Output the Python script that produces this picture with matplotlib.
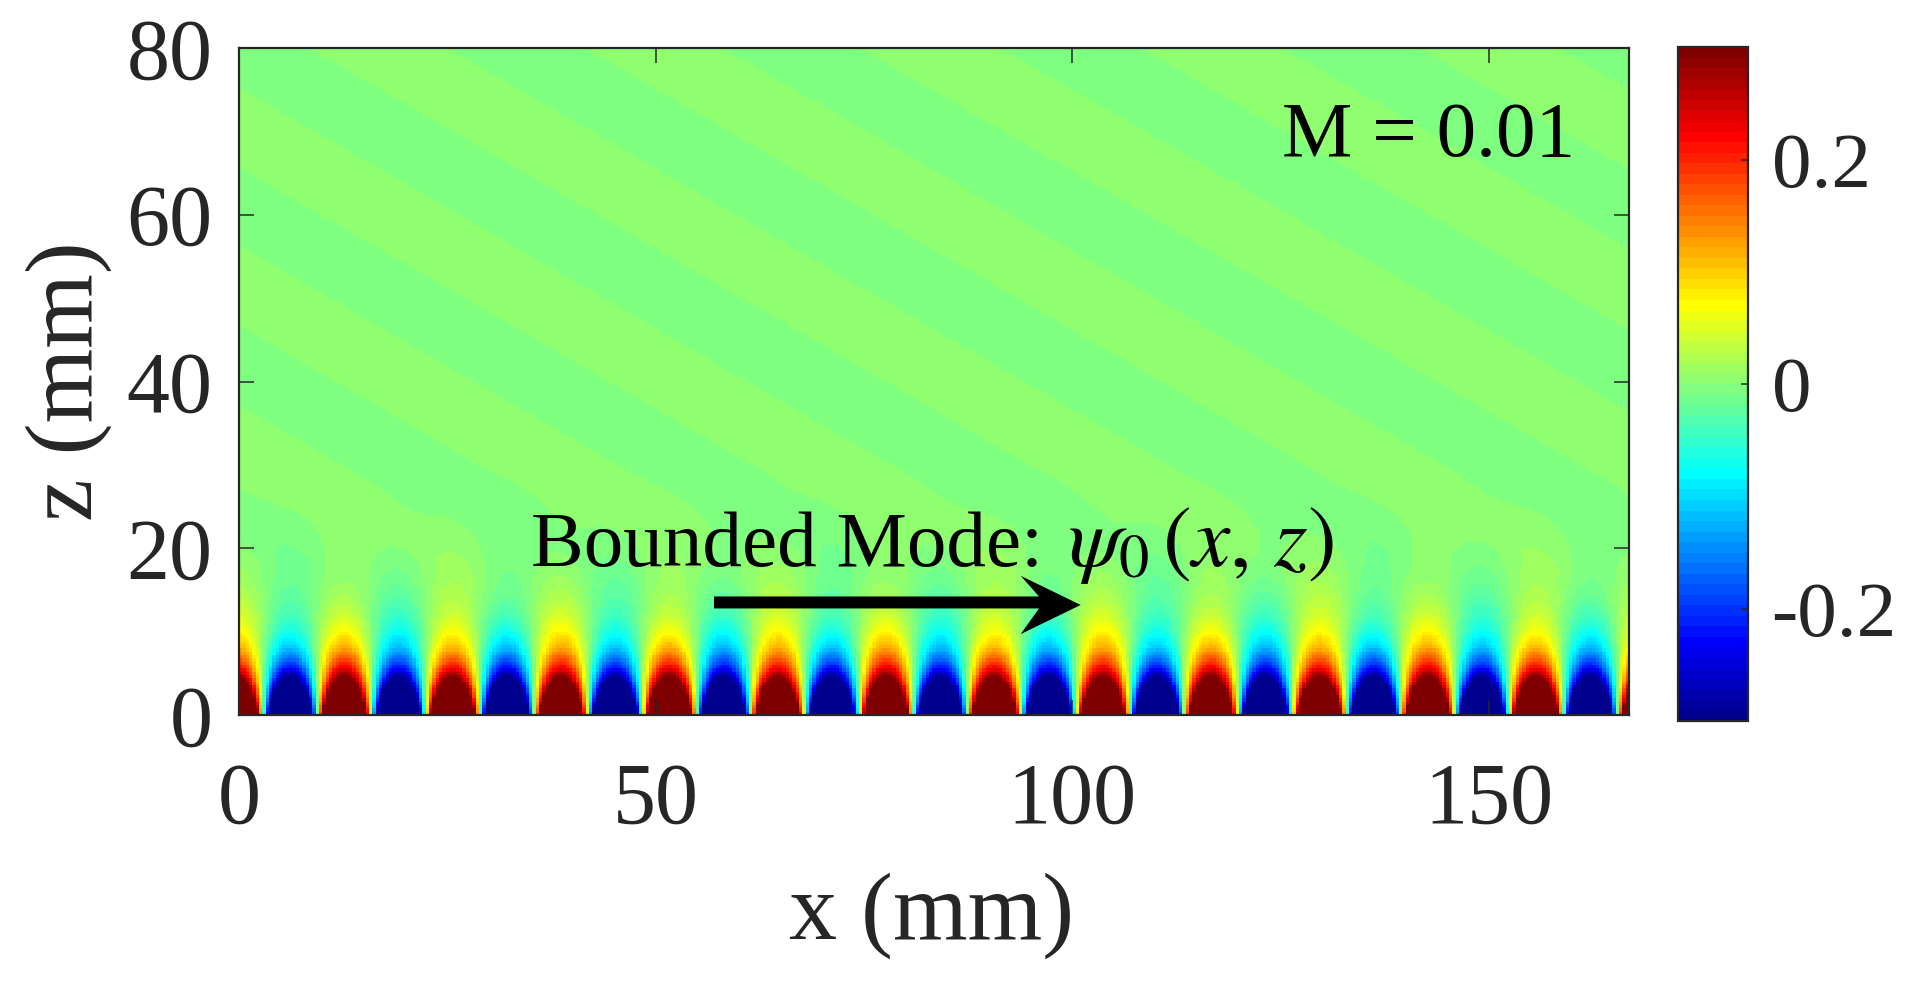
import numpy as np
import matplotlib
matplotlib.use("Agg")
import matplotlib.pyplot as plt
from matplotlib.colors import ListedColormap
from matplotlib.patches import Polygon

# ---- values (mm) ----
x_limits = [0.0, 166.8]
z_limits = [0.0, 80.0]
color_limits = [-0.3, 0.3]
x_ticks = [0, 50, 100, 150]
z_ticks = [0, 20, 40, 60, 80]
cbar_ticks = [-0.2, 0, 0.2]
cbar_labels = ["-0.2", "0", "0.2"]

# x positions of the 26 nodes of the bounded mode (mm)
mode_nodes = [2.9, 9.4, 15.9, 22.4, 28.9, 35.4, 41.9, 48.4, 54.9, 61.4, 67.9, 74.4, 80.9,
              87.4, 93.9, 100.4, 106.9, 113.4, 119.9, 126.4, 132.9, 139.4, 145.9, 152.4,
              158.9, 165.4]
# shape across one half-lobe
lobe_pos = [0.0, 0.05, 0.1, 0.15, 0.2, 0.25, 0.3, 0.35, 0.4, 0.45, 0.5,
            0.55, 0.6, 0.65, 0.7, 0.75, 0.8, 0.85, 0.9, 0.95, 1.0]
lobe_shape = [0.0, 0.156, 0.309, 0.454, 0.588, 0.707, 0.809, 0.891, 0.951, 0.988, 1.0,
              0.988, 0.951, 0.891, 0.809, 0.707, 0.588, 0.454, 0.309, 0.156, 0.0]
# decay of the lobe amplitude with height
decay_z = [0, 2, 4, 4.6, 6, 8, 10, 12, 14, 16, 18, 20, 22, 25, 30, 40, 80]
decay_amp = [1.0, 0.59, 0.35, 0.30, 0.205, 0.12, 0.072, 0.042, 0.025, 0.0148,
             0.0088, 0.0048, 0.0022, 0.0007, 0.0, 0.0, 0.0]
# oblique stripes: places where the sign changes, measured along the top edge (mm)
stripe_crossings = [-157.2, -140.6, -124.0, -107.4, -90.8, -74.2, -57.6, -41.0, -24.8, -8.2,
                    8.4, 25.0, 41.5, 58.0, 74.5, 91.4, 108.3, 125.2, 141.7, 158.3, 175.0]
stripe_slope = 0.578
stripe_level = 0.006
grid_step = 0.4

# MATLAB-style jet, 64 rows
jet_rows = [1, 8, 24, 40, 56, 64]
jet_r = [0, 0, 0, 1, 1, 0.5]
jet_g = [0, 0, 1, 1, 0, 0]
jet_b = [0.5625, 1, 1, 0, 0, 0]

plt.rcParams["font.family"] = ["Liberation Serif", "DejaVu Serif"]
plt.rcParams["mathtext.fontset"] = "stix"
plt.rcParams["axes.unicode_minus"] = False

rows = np.arange(1, 65)
cmap = ListedColormap(np.column_stack([np.interp(rows, jet_rows, jet_r),
                                       np.interp(rows, jet_rows, jet_g),
                                       np.interp(rows, jet_rows, jet_b)]))

x = np.arange(x_limits[0] + grid_step / 2, x_limits[1], grid_step)
z = np.arange(z_limits[0] + grid_step / 2, z_limits[1], grid_step)
X, Z = np.meshgrid(x, z)

# bounded mode from the tables
nodes = np.array(mode_nodes)
half = nodes[1] - nodes[0]
idx = np.floor((X - nodes[0]) / half)
frac = (X - nodes[0]) / half - idx
sign = np.where(idx % 2 == 0, -1.0, 1.0)
mode = sign * np.interp(frac, lobe_pos, lobe_shape) * np.interp(Z, decay_z, decay_amp)

# stripes from the tables
cross = np.array(stripe_crossings)
mids = (cross[:-1] + cross[1:]) / 2
knots = np.empty(cross.size + mids.size)
knots[0::2] = cross
knots[1::2] = mids
levels = np.zeros(knots.size)
first_index = int(np.where(cross == 8.4)[0][0])
mid_sign = np.where((np.arange(mids.size) - first_index) % 2 == 0, 1.0, -1.0)
levels[1::2] = mid_sign * stripe_level
U = X + (Z - z_limits[1]) / stripe_slope
field = mode + np.interp(U, knots, levels)

fig = plt.figure(figsize=(19.15, 9.81), dpi=100)
W, H = 1915.0, 981.0
ax = fig.add_axes([239 / W, 1 - 715 / H, (1629 - 239) / W, (715 - 48) / H])
im = ax.imshow(field, origin="lower", extent=x_limits + z_limits, aspect="auto",
               cmap=cmap, vmin=color_limits[0], vmax=color_limits[1], interpolation="nearest")
ax.set_xlim(x_limits)
ax.set_ylim(z_limits)
ax.set_xticks(x_ticks)
ax.set_yticks(z_ticks)
dark = "#262626"
ax.tick_params(axis="both", direction="in", top=True, right=True, length=10.5, width=1.1,
               color=dark, labelcolor=dark, labelsize=62)
ax.tick_params(axis="x", pad=34)
ax.tick_params(axis="y", pad=19)
for s in ax.spines.values():
    s.set_linewidth(1.6)
    s.set_color(dark)
ax.set_xlabel("x (mm)", fontsize=69, color=dark)
ax.set_ylabel("z (mm)", fontsize=69, color=dark)
ax.xaxis.set_label_coords((932 - 239) / 1390, -(872 - 715) / 667, transform=ax.transAxes)
ax.yaxis.set_label_coords(-(239 - 112) / 1390, (715 - 381) / 667, transform=ax.transAxes)

ax.text(0.961, 0.866, "M = 0.01", transform=ax.transAxes, fontsize=57, color="black",
        ha="right", va="center")
ax.text((531 - 239) / 1390, (715 - 566) / 667, "Bounded Mode:",
        transform=ax.transAxes, fontsize=57, color="black", ha="left", va="baseline")
ax.text((1068 - 239) / 1390, (715 - 566) / 667, r"$\psi_0\,(x,\,z)$",
        transform=ax.transAxes, fontsize=62, color="black", ha="left", va="baseline")

# arrow annotation, in data units
tail_x, tail_z, tip_x, tip_z = 57.0, 13.5, 101.0, 13.2
head_back, head_notch, head_half, shaft_half = 7.2, 5.0, 3.5, 0.72
ax.add_patch(Polygon([(tail_x, tail_z + shaft_half),
                      (tip_x - head_notch, tail_z + shaft_half),
                      (tip_x - head_back, tip_z + head_half),
                      (tip_x, tip_z),
                      (tip_x - head_back, tip_z - head_half),
                      (tip_x - head_notch, tail_z - shaft_half),
                      (tail_x, tail_z - shaft_half)], closed=True, color="black", lw=0))

cax = fig.add_axes([1678 / W, 1 - 721 / H, (1748 - 1678) / W, (721 - 47.4) / H])
cb = fig.colorbar(im, cax=cax, ticks=cbar_ticks)
cb.ax.set_yticklabels(cbar_labels)
cb.ax.tick_params(direction="in", right=True, length=5, width=1.1, color=dark,
                  labelcolor=dark, labelsize=57, pad=17)
cb.outline.set_linewidth(1.6)
cb.outline.set_edgecolor(dark)

fig.savefig("out.png", dpi=100, facecolor="white")
